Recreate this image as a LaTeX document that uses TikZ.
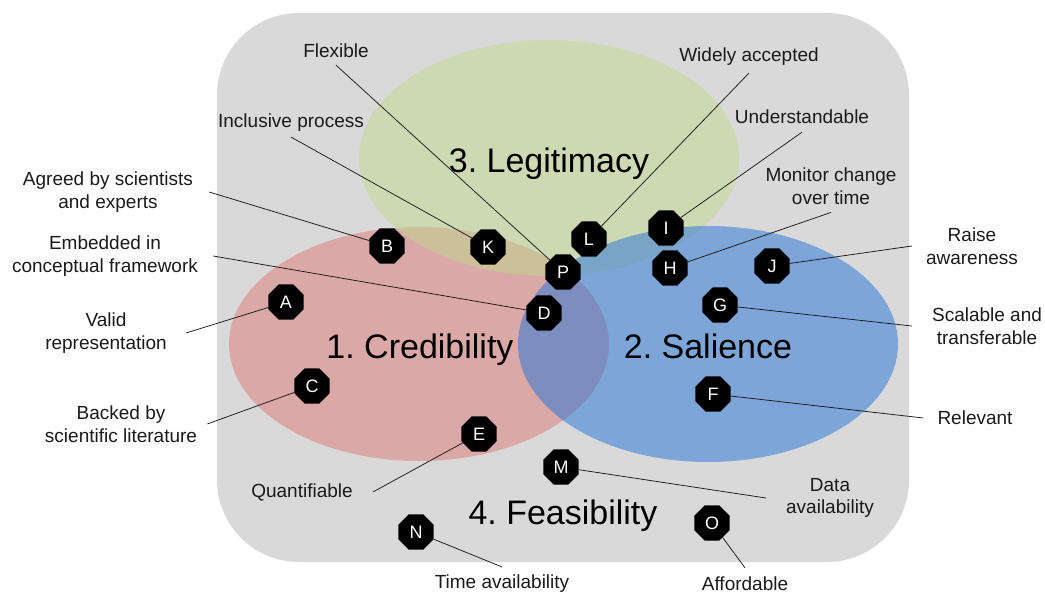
\documentclass[tikz,border=0pt]{standalone}
\usepackage{fontspec}
\setmainfont{Liberation Sans}
\usetikzlibrary{shapes.geometric}
\definecolor{bggray}{RGB}{217,217,217}
\definecolor{credred}{RGB}{217,121,119}
\definecolor{legitgreen}{RGB}{193,217,143}
\definecolor{salblue}{RGB}{37,115,215}
\definecolor{txt}{RGB}{26,26,26}
\frenchspacing
\begin{document}
\begin{tikzpicture}[x=1pt,y=-1pt,
  oct/.style={regular polygon, regular polygon sides=8, minimum size=38pt, inner sep=0pt, fill=black, text=white, font=\fontsize{18}{18}\selectfont},
  lab/.style={align=center, text=txt, font=\fontsize{19}{22.5}\selectfont, inner ysep=7pt},
  bigtitle/.style={anchor=base, text=black, font=\fontsize{34}{34}\selectfont\frenchspacing, inner sep=0pt},
  conn/.style={draw=txt, line width=0.75pt},
  blob/.style={fill opacity=0.5}]
\useasboundingbox (0,0) rectangle (1045,594);
% background panel and circles
\fill[bggray, rounded corners=82pt] (217,13) rectangle (909,562);
\fill[credred, blob] (419,344) ellipse [x radius=190pt, y radius=117pt];
\fill[legitgreen, blob] (549,158) ellipse [x radius=190pt, y radius=118pt];
\fill[salblue, blob] (708,344) ellipse [x radius=190pt, y radius=118pt];
% titles
\node[bigtitle] (tcred) at (420,358) {1. Credibility};
\node[bigtitle] (tsal) at (708,358) {2. Salience};
\node[bigtitle] (tleg) at (549,172) {3. Legitimacy};
\node[bigtitle] (tfeas) at (563,524) {4. Feasibility};
% markers
\node[oct] (A) at (286,302) {A};
\node[oct] (B) at (387,246) {B};
\node[oct] (C) at (312,386) {C};
\node[oct] (D) at (544,313) {D};
\node[oct] (E) at (479,434) {E};
\node[oct] (F) at (713,394) {F};
\node[oct] (G) at (720,305) {G};
\node[oct] (H) at (670,268) {H};
\node[oct] (I) at (666,228) {I};
\node[oct] (J) at (772,266) {J};
\node[oct] (K) at (488,247) {K};
\node[oct] (L) at (589,239) {L};
\node[oct] (M) at (561,467) {M};
\node[oct] (N) at (416,532) {N};
\node[oct] (O) at (712,523) {O};
\node[oct] (P) at (563,272) {P};
% labels
\node[lab, inner xsep=16pt] (agreed) at (108,192) {Agreed by scientists\\and experts};
\node[lab, inner xsep=15pt] (embed) at (105,256) {Embedded in\\conceptual framework};
\node[lab, inner xsep=19pt] (valid) at (106,333) {Valid\\representation};
\node[lab, inner xsep=10pt] (backed) at (121,424) {Backed by\\scientific literature};
\node[lab, inner xsep=20pt] (quant) at (302,492) {Quantifiable};
\node[lab, inner xsep=14pt] (raise) at (972,246) {Raise\\awareness};
\node[lab, inner xsep=20pt] (scal) at (987,326) {Scalable and\\transferable};
\node[lab, inner xsep=14pt] (relev) at (975,418) {Relevant};
\node[lab, inner xsep=20pt] (data) at (830,498) {Data\\availability};
\node[lab] (flex) at (336,51) {Flexible};
\node[lab] (widely) at (749,57) {Widely accepted};
\node[lab, inner ysep=8pt] (under) at (802,117) {Understandable};
\node[lab, inner ysep=5pt] (incl) at (291,123) {Inclusive process};
\node[lab, inner ysep=8pt] (monitor) at (831,186) {Monitor change\\over time};
\node[lab, inner ysep=8pt] (time) at (502,584) {Time availability};
\node[lab, inner ysep=9pt] (afford) at (745,584) {Affordable};
% connectors
\draw[conn] (agreed.east) -- (B);
\draw[conn] (embed.east) -- (D);
\draw[conn] (valid.east) -- (A);
\draw[conn] (backed.east) -- (C);
\draw[conn] (quant.east) -- (E);
\draw[conn] (raise.west) -- (J);
\draw[conn] (scal.west) -- (G);
\draw[conn] (relev.west) -- (F);
\draw[conn] (data.west) -- (M);
\draw[conn] (flex.south) -- (P);
\draw[conn] (widely.south) -- (L);
\draw[conn] (under.south) -- (I);
\draw[conn] (incl.south) -- (K);
\draw[conn] (monitor.south) -- (H);
\draw[conn] (time.north) -- (N);
\draw[conn] (afford.north) -- (O);
\end{tikzpicture}
\end{document}
